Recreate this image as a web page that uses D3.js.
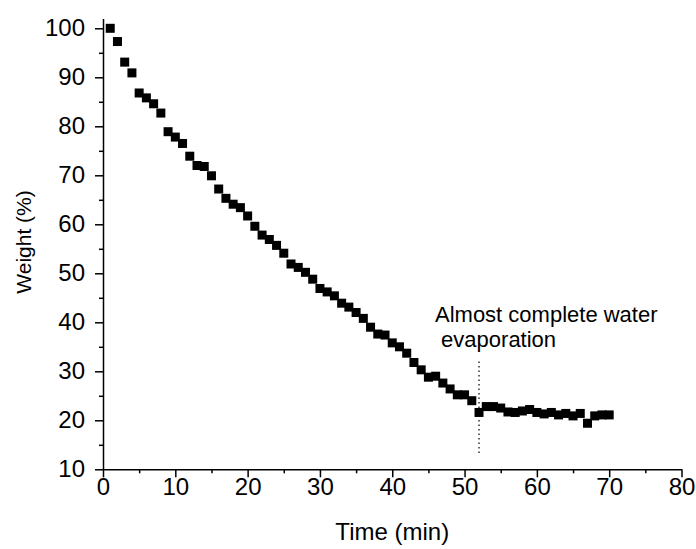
<!DOCTYPE html>
<html>
<head>
<meta charset="utf-8">
<script src="https://cdn.jsdelivr.net/npm/d3@7"></script>
<style>
  body { margin: 0; background: #fff; }
  svg { font-family: "Liberation Sans", Arial, sans-serif; }
</style>
</head>
<body>
<div id="chart"></div>
<script>
var width = 696,
	height = 549;

// time in minutes
var times = [1, 2, 3, 4, 5, 6, 7, 8, 9, 10, 11, 12, 13, 14, 15, 16, 17, 18, 19, 20,
	21, 22, 23, 24, 25, 26, 27, 28, 29, 30, 31, 32, 33, 34, 35, 36, 37, 38, 39, 40,
	41, 42, 43, 44, 45, 46, 47, 48, 49, 50, 51, 52, 53, 54, 55, 56, 57, 58, 59, 60,
	61, 62, 63, 64, 65, 66, 67, 68, 69, 70];

// weight in %
var weights = [100.0, 97.3, 93.1, 90.9, 86.8, 85.8, 84.6, 82.7, 78.9, 77.8,
	76.5, 73.9, 72.0, 71.8, 69.9, 67.2, 65.3, 64.1, 63.4, 61.7,
	59.6, 57.8, 56.9, 55.7, 54.1, 51.9, 51.2, 50.2, 48.8, 46.9,
	46.2, 45.4, 43.9, 43.1, 42.0, 40.8, 39.0, 37.6, 37.4, 35.8,
	35.0, 33.7, 31.8, 30.3, 28.8, 29.0, 27.6, 26.4, 25.2, 25.2,
	24.0, 21.6, 22.8, 22.8, 22.5, 21.7, 21.6, 21.9, 22.2, 21.6,
	21.3, 21.6, 21.1, 21.4, 20.9, 21.4, 19.4, 20.9, 21.1, 21.1];

var xTicks = [0, 10, 20, 30, 40, 50, 60, 70, 80];
var xMinor = [5, 15, 25, 35, 45, 55, 65, 75];
var yTicks = [10, 20, 30, 40, 50, 60, 70, 80, 90, 100];
var yMinor = [15, 25, 35, 45, 55, 65, 75, 85, 95];

var noteLines = ["Almost complete water", " evaporation"];
var noteTime = 52, noteFrom = 12.7, noteTo = 32;

var svg = d3.select("#chart").append("svg")
	.attr("width", width)
	.attr("height", height);

var x = d3.scaleLinear().domain([0, 80]).range([103, 681.5]);
var y = d3.scaleLinear().domain([10, 102]).range([469.3, 18.5]);

var xAxis = d3.axisBottom(x).tickValues(xTicks).tickSize(8).tickSizeOuter(0).tickPadding(1);
var xAxisMinor = d3.axisBottom(x).tickValues(xMinor).tickSize(4).tickFormat("");
var yAxis = d3.axisLeft(y).tickValues(yTicks).tickSize(8).tickSizeOuter(0).tickPadding(10);
var yAxisMinor = d3.axisLeft(y).tickValues(yMinor).tickSize(4).tickFormat("");

var gxm = svg.append("g").attr("transform", "translate(0," + y(10) + ")").call(xAxisMinor);
var gx = svg.append("g").attr("transform", "translate(0," + y(10) + ")").call(xAxis);
var gym = svg.append("g").attr("transform", "translate(" + x(0) + ",0)").call(yAxisMinor);
var gy = svg.append("g").attr("transform", "translate(" + x(0) + ",0)").call(yAxis);

[gx, gxm, gy, gym].forEach(function (g) {
	g.selectAll("line").attr("stroke", "#000").attr("stroke-width", 1.5);
	g.select(".domain").attr("stroke", "#000").attr("stroke-width", 1.5);
	g.selectAll("text").attr("fill", "#000").style("font-size", "24px")
		.style("font-family", "Liberation Sans, Arial, sans-serif");
});
gxm.select(".domain").remove();
gym.select(".domain").remove();

svg.append("text")
	.attr("x", x(40))
	.attr("y", 540)
	.attr("text-anchor", "middle")
	.style("font-size", "24px")
	.text("Time (min)");

svg.append("text")
	.attr("transform", "translate(31," + 242 + ") rotate(-90)")
	.attr("text-anchor", "middle")
	.style("font-size", "21px")
	.text("Weight (%)");

// dotted marker line
svg.append("line")
	.attr("x1", x(noteTime)).attr("x2", x(noteTime))
	.attr("y1", y(noteTo)).attr("y2", y(noteFrom))
	.attr("stroke", "#000")
	.attr("stroke-width", 1.2)
	.attr("stroke-dasharray", "1.5,3");

var note = svg.append("text")
	.attr("x", 435)
	.attr("y", 322)
	.style("font-size", "22px");
note.selectAll("tspan").data(noteLines).enter().append("tspan")
	.attr("x", 435)
	.attr("dy", function (d, i) { return i == 0 ? 0 : 25; })
	.attr("xml:space", "preserve")
	.style("white-space", "pre")
	.text(function (d) { return d; });

var sq = 9;
svg.append("g")
	.selectAll("rect")
	.data(times)
	.enter()
	.append("rect")
	.attr("x", function (d) { return x(d) - sq / 2; })
	.attr("y", function (d, i) { return y(weights[i]) - sq / 2; })
	.attr("width", sq)
	.attr("height", sq)
	.attr("fill", "#000");
</script>
</body>
</html>
